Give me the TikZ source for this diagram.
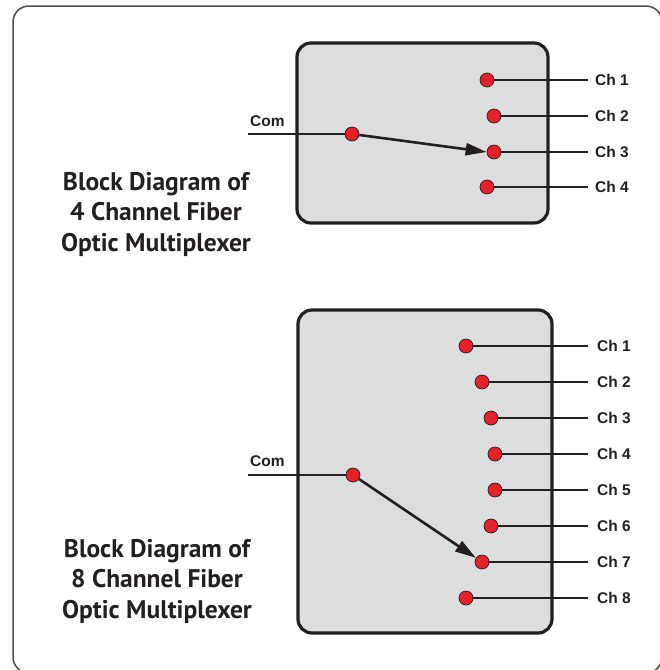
\documentclass[tikz,border=0pt]{standalone}
\usepackage{fontspec}
\setmainfont{Liberation Sans}
\newfontfamily\titlefont{PT Sans}
\usetikzlibrary{arrows.meta}
\definecolor{boxgray}{HTML}{DCDDDF}
\definecolor{dotred}{HTML}{E8202A}
\definecolor{ink}{HTML}{231F20}
\begin{document}
\begin{tikzpicture}[x=1pt,y=-1pt,
  mux/.style={draw=ink,line width=3.2pt,fill=boxgray,rounded corners=14pt},
  dot/.style={circle,fill=dotred,draw=ink,line width=0.7pt,minimum size=14pt,inner sep=0pt},
  wire/.style={draw=ink,line width=2.8pt},
  chlabel/.style={anchor=west,font=\fontsize{15.5}{17}\selectfont\bfseries,text=ink,inner sep=0pt},
  comlabel/.style={anchor=south west,font=\fontsize{15.5}{17}\selectfont\bfseries,text=ink,inner sep=0pt},
  title/.style={align=center,font=\titlefont\fontsize{25.5}{30.5}\selectfont\bfseries,text=ink},
  sel/.style={draw=ink,line width=2.6pt,-{Triangle[length=21pt,width=12pt]}}]
\useasboundingbox (0,0) rectangle (660,670);
\fill[white] (0,0) rectangle (660,670);
\begin{scope}
\clip (0,0) rectangle (660,670);
\draw[draw=black!70,line width=1.5pt,rounded corners=16pt] (13,6) rectangle (662,673);
\end{scope}
% ---- top: 4 channel ----
\draw[mux] (297,43) rectangle (548,223);
\coordinate (ca) at (248,134);
\node[dot] (c4) at (352,134) {};
\node[comlabel] (comA) at (250,127) {Com};
\foreach \i/\x/\y in {1/487/80,2/494/116,3/494/152,4/487/187}{
  \node[dot] (a\i) at (\x,\y) {};
  \coordinate (ae\i) at (588,\y);
  \node[chlabel] (la\i) at (595,\y) {Ch \i};
}
\foreach \i in {1,...,4}{\draw[wire] (a\i.east) -- (ae\i);}
\draw[wire] (ca) -- (c4.west);
\draw[sel] (c4) -- (a3.west);
\node[title] (t4) at (156,214) {Block Diagram of\\4 Channel Fiber\\Optic Multiplexer};
% ---- bottom: 8 channel ----
\draw[mux] (298,310) rectangle (552,633);
\coordinate (cb) at (248,475);
\node[dot] (c8) at (353,475) {};
\node[comlabel] (comB) at (250,467) {Com};
\foreach \i/\x/\y in {1/466/346,2/482/382,3/491/418,4/495/454,5/495/490,6/491/526,7/482/562,8/466/598}{
  \node[dot] (b\i) at (\x,\y) {};
  \coordinate (be\i) at (588,\y);
  \node[chlabel] (lb\i) at (597,\y) {Ch \i};
}
\foreach \i in {1,...,8}{\draw[wire] (b\i.east) -- (be\i);}
\draw[wire] (cb) -- (c8.west);
\draw[sel] (c8) -- (b7);
\node[title] (t8) at (157,581) {Block Diagram of\\8 Channel Fiber\\Optic Multiplexer};
\end{tikzpicture}
\end{document}
